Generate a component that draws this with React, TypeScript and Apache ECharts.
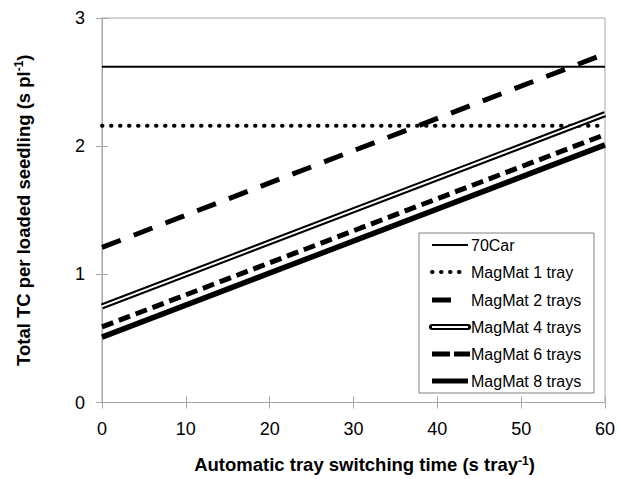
import React, { useEffect, useRef } from "react";
import * as echarts from "echarts";

const xValues = [0, 60];
const car70 = [2.62, 2.62];
const magMat1 = [2.16, 2.16];
const magMat2 = [1.21, 2.72];
const magMat4 = [0.75, 2.25];
const magMat6 = [0.59, 2.09];
const magMat8 = [0.51, 2.01];
const xTicks = [0, 10, 20, 30, 40, 50, 60];
const yTicks = [0, 1, 2, 3];
const legendNames = ["70Car", "MagMat 1 tray", "MagMat 2 trays", "MagMat 4 trays", "MagMat 6 trays", "MagMat 8 trays"];

const FONT = "'Liberation Sans', Arial, sans-serif";

function pairs(ys: number[]) {
  return xValues.map((x, i) => [x, ys[i]]);
}

export default function App() {
  const ref = useRef<HTMLDivElement>(null);
  useEffect(() => {
    if (!ref.current) return;
    const chart = echarts.init(ref.current, null, { renderer: "svg" });
    const lx0 = 432, lx1 = 468, ltx = 471;
    const rowY = [245, 272, 300, 327, 354, 381];
    const legendEls: any[] = [
      { type: "rect", shape: { x: 419, y: 233, width: 175, height: 160 }, style: { fill: "#fff", stroke: "#808080", lineWidth: 1 }, z: 100 },
    ];
    const lineEl = (i: number, x1: number, style: any) => ({
      type: "line", shape: { x1: lx0, y1: rowY[i], x2: x1, y2: rowY[i] }, style: { stroke: "#000", ...style }, z: 101,
    });
    legendEls.push(lineEl(0, lx1, { lineWidth: 2 }));
    legendEls.push(lineEl(1, lx1, { lineWidth: 4, lineDash: [0.5, 8.5], lineCap: "round" }));
    legendEls.push(lineEl(2, 451, { lineWidth: 5 }));
    legendEls.push(lineEl(3, lx1, { lineWidth: 6, lineCap: "round" }));
    legendEls.push({ type: "line", shape: { x1: lx0, y1: rowY[3], x2: lx1, y2: rowY[3] }, style: { stroke: "#fff", lineWidth: 2 }, z: 102 });
    legendEls.push(lineEl(4, lx1 + 2, { lineWidth: 5, lineDash: [18, 4] }));
    legendEls.push(lineEl(5, lx1, { lineWidth: 5 }));
    legendNames.forEach((n, i) => {
      legendEls.push({
        type: "text", x: ltx, y: rowY[i], z: 103,
        style: { text: n, fill: "#000", font: `16px ${FONT}`, textVerticalAlign: "middle", textAlign: "left" },
      });
    });

    const baseLine = (name: string, data: number[], lineStyle: any, z = 2) => ({
      type: "line", name, data: pairs(data), symbol: "none", lineStyle: { color: "#000", ...lineStyle }, z, silent: true,
    });

    const rich = {
      a: { fontSize: 18.5, fontWeight: "bold", color: "#000", fontFamily: FONT },
      s: { fontSize: 12, fontWeight: "bold", color: "#000", fontFamily: FONT, verticalAlign: "top", padding: [0, 0, 8, 0] },
    };

    chart.setOption({
      animation: false,
      backgroundColor: "#fff",
      textStyle: { fontFamily: FONT },
      grid: { left: 102, right: 9, top: 18, bottom: 71, show: true, borderColor: "#a6a6a6", borderWidth: 1 },
      xAxis: [
        {
          type: "value", min: xTicks[0], max: xTicks[xTicks.length - 1], interval: 10,
          axisLine: { show: true, lineStyle: { color: "#a6a6a6" } },
          axisTick: { show: true, inside: true, length: 6, lineStyle: { color: "#a6a6a6" } },
          axisLabel: { color: "#000", fontSize: 18, margin: 17, fontFamily: FONT },
          splitLine: { show: false },
          name: "{a|Automatic tray switching time (s tray}{s|-1}{a|)}",
          nameLocation: "middle", nameGap: 52,
          nameTextStyle: { rich, padding: [0, 0, 0, 22] },
        },
        {
          type: "value", position: "top", min: 0, max: 60, interval: 10,
          axisLine: { show: false },
          axisTick: { show: true, inside: true, length: 6, lineStyle: { color: "#a6a6a6" } },
          axisLabel: { show: false }, splitLine: { show: false },
        },
      ],
      yAxis: [
        {
          type: "value", min: yTicks[0], max: yTicks[yTicks.length - 1], interval: 1,
          axisLine: { show: true, lineStyle: { color: "#a6a6a6" } },
          axisTick: { show: true, inside: true, length: 6, lineStyle: { color: "#a6a6a6" } },
          axisLabel: { color: "#000", fontSize: 18, margin: 17, fontFamily: FONT },
          splitLine: { show: false },
          name: "{a|Total TC per loaded seedling (s pl}{s|-1}{a|)}",
          nameLocation: "middle", nameGap: 69,
          nameTextStyle: { rich },
        },
        {
          type: "value", position: "right", min: 0, max: 3, interval: 1,
          axisLine: { show: false },
          axisTick: { show: true, inside: true, length: 6, lineStyle: { color: "#a6a6a6" } },
          axisLabel: { show: false }, splitLine: { show: false },
        },
      ],
      series: [
        baseLine(legendNames[0], car70, { width: 2 }),
        baseLine(legendNames[1], magMat1, { width: 4, type: [0.5, 8.5], cap: "round" }),
        baseLine(legendNames[2], magMat2, { width: 5, type: [20, 14] }),
        baseLine(legendNames[3], magMat4, { width: 6 }),
        baseLine(legendNames[3] + " inner", magMat4, { width: 2, color: "#fff" }, 3),
        baseLine(legendNames[4], magMat6, { width: 5, type: [12, 6] }),
        baseLine(legendNames[5], magMat8, { width: 5.5 }),
      ],
      graphic: legendEls,
    });
    return () => chart.dispose();
  }, []);
  return <div ref={ref} style={{ position: "fixed", left: 0, top: 0, width: 618, height: 479 }} />;
}
